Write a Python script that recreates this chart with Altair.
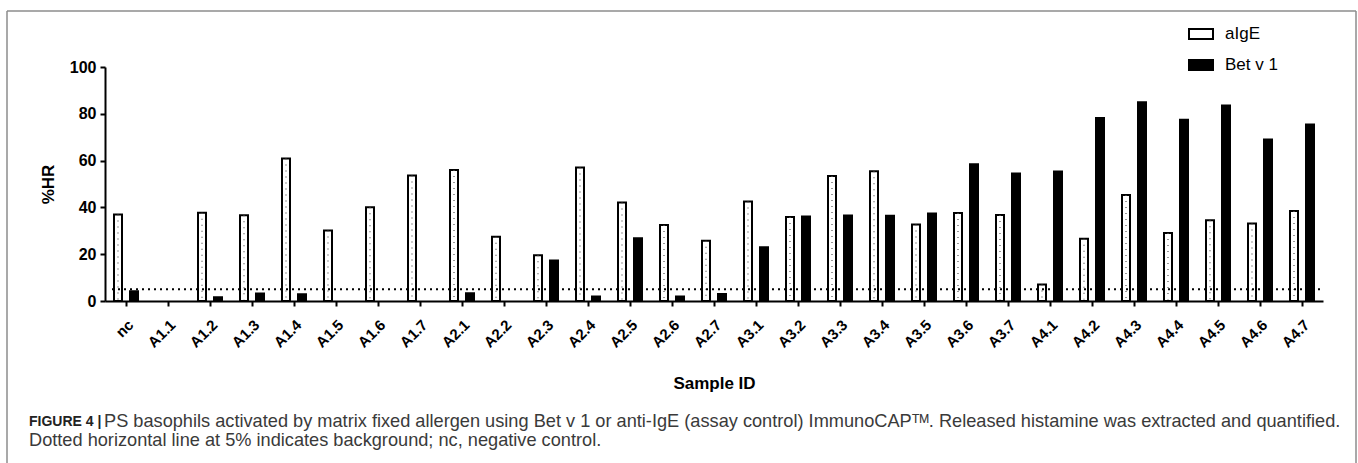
import altair as alt
import pandas as pd

samples = ["nc", "A1.1", "A1.2", "A1.3", "A1.4", "A1.5", "A1.6", "A1.7",
           "A2.1", "A2.2", "A2.3", "A2.4", "A2.5", "A2.6", "A2.7",
           "A3.1", "A3.2", "A3.3", "A3.4", "A3.5", "A3.6", "A3.7",
           "A4.1", "A4.2", "A4.3", "A4.4", "A4.5", "A4.6", "A4.7"]
series = ["aIgE", "Bet v 1"]
aige = [37.0, None, 37.7, 36.6, 60.9, 30.1, 40.1, 53.6,
        56.0, 27.5, 19.6, 57.0, 42.1, 32.5, 25.8,
        42.5, 35.9, 53.4, 55.5, 32.7, 37.6, 36.8,
        7.0, 26.6, 45.3, 29.1, 34.5, 33.1, 38.5]
betv1 = [4.2, None, 1.6, 3.2, 2.9, None, None, None,
         3.3, None, 17.3, 1.9, 26.8, 1.9, 3.0,
         23.0, 36.1, 36.5, 36.4, 37.4, 58.4, 54.5,
         55.3, 78.2, 84.9, 77.5, 83.5, 69.0, 75.4]
background = [5]
y_ticks = [0, 20, 40, 60, 80, 100]

cap_bold = "FIGURE 4 |"
cap_line1 = ("PS basophils activated by matrix fixed allergen using Bet v 1 or anti-IgE "
             "(assay control) ImmunoCAP\u1d40\u1d39. Released histamine was extracted and quantified.")
cap_line2 = "Dotted horizontal line at 5% indicates background; nc, negative control."

rows = []
for s, a, b in zip(samples, aige, betv1):
    if a is not None:
        rows.append({"sample": s, "series": "aIgE", "value": a})
    if b is not None:
        rows.append({"sample": s, "series": "Bet v 1", "value": b})
df = pd.DataFrame(rows)
df_a = df[df.series == "aIgE"]

FONT = "Liberation Sans"
W, H = 1218, 234

xscale = alt.Scale(domain=samples, paddingInner=18 / 42, paddingOuter=9 / 42)
oscale = alt.Scale(domain=series, paddingInner=0.5, paddingOuter=0)
yscale = alt.Scale(domain=[0, 100], nice=False)

xenc = alt.X("sample:N", sort=samples, scale=xscale,
             axis=alt.Axis(title="Sample ID", labelAngle=-45, labelFont=FONT,
                           labelFontSize=15, labelFontWeight="bold", labelColor="black",
                           tickSize=5, tickWidth=2, tickColor="black",
                           domainWidth=2, domainColor="black", labelPadding=11,
                           titleFont=FONT, titleFontSize=17, titleFontWeight="bold",
                           titleColor="black", titlePadding=25, zindex=1))
yenc = alt.Y("value:Q", scale=yscale,
             axis=alt.Axis(title="%HR", values=y_ticks, grid=False, labelFont=FONT,
                           labelFontSize=16, labelFontWeight="bold", labelColor="black",
                           tickSize=5, tickWidth=2, tickColor="black",
                           domainWidth=2, domainColor="black", labelPadding=4,
                           titleFont=FONT, titleFontSize=17, titleFontWeight="bold",
                           titleColor="black", titlePadding=12, zindex=1))

bars = alt.Chart(df).mark_bar(stroke="black", strokeWidth=2).encode(
    x=xenc,
    xOffset=alt.XOffset("series:N", scale=oscale),
    y=yenc,
    fill=alt.Fill("series:N", scale=alt.Scale(domain=series, range=["white", "black"]),
                  legend=alt.Legend(title=None, orient="none", legendX=1083, legendY=-46,
                                    symbolType="M-1,-0.42H1V0.42H-1Z", symbolSize=576,
                                    symbolStrokeColor="black", symbolStrokeWidth=2,
                                    labelFont=FONT, labelFontSize=17, labelColor="black",
                                    labelOffset=11, rowPadding=8, padding=0)),
)

dots = alt.Chart(df_a).mark_rule(strokeDash=[1, 5], strokeWidth=1.2, color="#555").encode(
    x=alt.X("sample:N", sort=samples, scale=xscale),
    xOffset=alt.XOffset("series:N", scale=oscale),
    y=alt.Y("value:Q", scale=yscale),
    y2=alt.datum(0.6),
)

bg = alt.Chart(pd.DataFrame({"bg": background})).mark_rule(
    strokeDash=[2, 4], strokeWidth=2, color="black").encode(
    y=alt.Y("bg:Q", scale=yscale), x=alt.value(7), x2=alt.value(1217))

one = pd.DataFrame({"k": [0]})
frame_col = "#8c8c8c"
top = alt.Chart(one).mark_rule(color=frame_col, strokeWidth=1.5).encode(
    x=alt.value(-98), x2=alt.value(1251), y=alt.value(-56))
left = alt.Chart(one).mark_rule(color=frame_col, strokeWidth=1.5).encode(
    x=alt.value(-98), y=alt.value(-56), y2=alt.value(400))
right = alt.Chart(one).mark_rule(color=frame_col, strokeWidth=1.5).encode(
    x=alt.value(1251), y=alt.value(-56), y2=alt.value(400))

cap_col = "#3a3a3a"
def txt(s, x, y, bold=False, size=18.2, align="left", color=cap_col):
    return alt.Chart(pd.DataFrame({"t": [s]})).mark_text(
        font=FONT, fontSize=size, fontWeight="bold" if bold else "normal",
        color=color, align=align, baseline="middle").encode(
        text="t:N", x=alt.value(x), y=alt.value(y))

caps = [
    txt(cap_bold, -76, 355, bold=True, size=14, color="#222"),
    txt(cap_line1, -1, 355),
    txt(cap_line2, -76, 374),
]

chart = alt.layer(bars, dots, bg, top, left, right, *caps).properties(
    width=W, height=H,
    autosize=alt.AutoSizeParams(type="none"),
    padding={"left": 105, "top": 67, "right": 35, "bottom": 162},
).configure_view(stroke=None)

chart.save("out.html", embed_options={"renderer": "svg", "actions": False})
